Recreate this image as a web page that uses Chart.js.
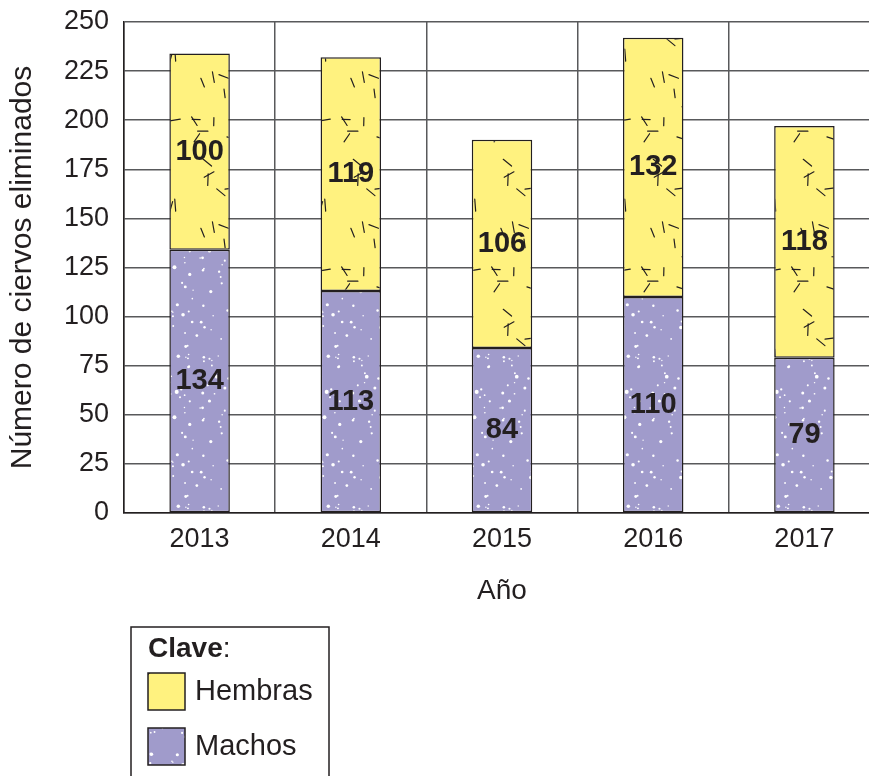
<!DOCTYPE html>
<html>
<head>
<meta charset="utf-8">
<script src="https://cdn.jsdelivr.net/npm/chart.js@4.4.0/dist/chart.umd.min.js"></script>
<style>
  html, body { margin: 0; padding: 0; background: #fff; overflow: hidden; }
  #wrap { width: 869px; height: 776px; overflow: hidden; position: relative; }
  #wrap canvas { position: absolute; left: 0; top: 0; }
</style>
</head>
<body>
<div id="wrap"><canvas id="grafico"></canvas></div>
<script>
// datos
const anos = ['2013', '2014', '2015', '2016', '2017'];
const machos = [134, 113, 84, 110, 79];
const hembras = [100, 119, 106, 132, 118];
const yMax = 250;
const yPaso = 25;

const FUENTE = '"Liberation Sans", Arial, Helvetica, sans-serif';
const TINTA = '#231f20';
const AMARILLO = '#fff27f';
const LILA = '#a09bcb';

// generador fijo, solo para la textura de relleno
function semilla(s) {
  return () => { s = (s * 16807) % 2147483647; return (s - 1) / 2147483646; };
}

function patronHembras(ctx) {
  const t = 150;
  const c = document.createElement('canvas');
  c.width = c.height = t;
  const g = c.getContext('2d');
  g.fillStyle = AMARILLO;
  g.fillRect(0, 0, t, t);
  g.strokeStyle = TINTA;
  g.lineWidth = 1.2;
  g.lineCap = 'round';
  const r = semilla(11);
  for (let i = 0; i < 48; i++) {
    const x = r() * t, y = r() * t, a = r() * Math.PI, l = 7 + r() * 5;
    const dx = Math.cos(a) * l / 2, dy = Math.sin(a) * l / 2;
    for (const ox of [-t, 0, t]) for (const oy of [-t, 0, t]) {
      g.beginPath();
      g.moveTo(x - dx + ox, y - dy + oy);
      g.lineTo(x + dx + ox, y + dy + oy);
      g.stroke();
    }
  }
  return ctx.createPattern(c, 'repeat');
}

function patronMachos(ctx) {
  const t = 150;
  const c = document.createElement('canvas');
  c.width = c.height = t;
  const g = c.getContext('2d');
  g.fillStyle = LILA;
  g.fillRect(0, 0, t, t);
  g.fillStyle = '#ffffff';
  const r = semilla(5);
  for (let i = 0; i < 140; i++) {
    const x = r() * t, y = r() * t, rad = 0.7 + r() * r() * 1.6;
    for (const ox of [-t, 0, t]) for (const oy of [-t, 0, t]) {
      g.beginPath();
      g.arc(x + ox, y + oy, rad, 0, Math.PI * 2);
      g.fill();
    }
  }
  return ctx.createPattern(c, 'repeat');
}

const canvas = document.getElementById('grafico');
canvas.width = 881;
canvas.height = 776;
const ctx = canvas.getContext('2d');
const rellenoH = patronHembras(ctx);
const rellenoM = patronMachos(ctx);

// ----------------------------
// etiquetas dentro de las barras
// ----------------------------
const etiquetas = {
  id: 'etiquetas',
  afterDatasetsDraw(chart) {
    const c = chart.ctx;
    c.save();
    c.font = 'bold 29px ' + FUENTE;
    c.fillStyle = TINTA;
    c.textAlign = 'center';
    c.textBaseline = 'middle';
    chart.data.datasets.forEach((ds, i) => {
      chart.getDatasetMeta(i).data.forEach((bar, j) => {
        c.fillText(String(ds.data[j]), bar.x, (bar.y + bar.base) / 2);
      });
    });
    c.restore();
  }
};

// ----------------------------
// clave (leyenda)
// ----------------------------
const clave = {
  id: 'clave',
  afterDraw(chart) {
    const c = chart.ctx;
    c.save();
    c.strokeStyle = TINTA;
    c.lineWidth = 1.5;
    c.strokeRect(131, 627, 198, 170);

    c.fillStyle = TINTA;
    c.textBaseline = 'middle';
    c.textAlign = 'left';
    c.font = 'bold 28px ' + FUENTE;
    c.fillText('Clave', 148, 649);
    const w = c.measureText('Clave').width;
    c.font = '28px ' + FUENTE;
    c.fillText(':', 148 + w, 649);

    const filas = [
      { texto: chart.data.datasets[1].label, relleno: rellenoH, y: 673 },
      { texto: chart.data.datasets[0].label, relleno: rellenoM, y: 728 }
    ];
    filas.forEach(f => {
      c.fillStyle = f.relleno;
      c.fillRect(148, f.y, 37, 37);
      c.strokeStyle = TINTA;
      c.lineWidth = 1.5;
      c.strokeRect(148, f.y, 37, 37);
      c.fillStyle = TINTA;
      c.font = '29px ' + FUENTE;
      c.fillText(f.texto, 195, f.y + 19);
    });
    c.restore();
  }
};

new Chart(canvas, {
  type: 'bar',
  data: {
    labels: anos,
    datasets: [
      {
        label: 'Machos',
        data: machos,
        backgroundColor: rellenoM,
        borderColor: TINTA,
        borderWidth: 1.5,
        borderSkipped: false
      },
      {
        label: 'Hembras',
        data: hembras,
        backgroundColor: rellenoH,
        borderColor: TINTA,
        borderWidth: 1.5,
        borderSkipped: false
      }
    ]
  },
  options: {
    responsive: false,
    animation: false,
    barPercentage: 0.4,
    categoryPercentage: 1,
    layout: { padding: { top: 22, bottom: 163, left: 0, right: 1 } },
    plugins: {
      legend: { display: false },
      tooltip: { enabled: false }
    },
    scales: {
      x: {
        stacked: true,
        grid: { offset: true, color: '#58595b', lineWidth: 1.5, drawTicks: false },
        border: { color: TINTA, width: 1.5 },
        ticks: { color: TINTA, font: { family: FUENTE, size: 27 }, padding: 10 },
        title: {
          display: true,
          text: 'Año',
          color: TINTA,
          font: { family: FUENTE, size: 28 },
          padding: { top: 0, bottom: 5 }
        },
        afterFit(s) { s.height = 100; s.paddingLeft = 0; s.paddingRight = 0; }
      },
      y: {
        stacked: true,
        min: 0,
        max: yMax,
        grid: { color: '#58595b', lineWidth: 1.5, drawTicks: false },
        border: { color: TINTA, width: 1.5 },
        ticks: {
          stepSize: yPaso,
          color: TINTA,
          font: { family: FUENTE, size: 27 },
          padding: 15
        },
        title: {
          display: true,
          text: 'Número de ciervos eliminados',
          color: TINTA,
          font: { family: FUENTE, size: 30 },
          padding: { top: 5, bottom: 0 }
        },
        afterFit(s) { s.width = 124; s.paddingTop = 0; s.paddingBottom = 0; }
      }
    }
  },
  plugins: [etiquetas, clave]
});
</script>
</body>
</html>
